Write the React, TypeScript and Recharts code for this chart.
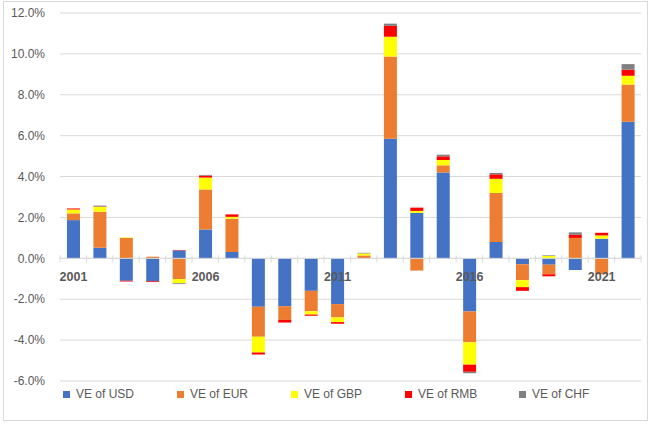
import React from "react";
import {
  BarChart,
  Bar,
  XAxis,
  YAxis,
  CartesianGrid,
  ReferenceLine,
  LabelList,
  Legend,
} from "recharts";

const years = [
  "2001", "2002", "2003", "2004", "2005", "2006", "2007", "2008", "2009", "2010", "2011",
  "2012", "2013", "2014", "2015", "2016", "2017", "2018", "2019", "2020", "2021", "2022",
];
const usd = [1.87, 0.52, -1.1, -1.12, 0.39, 1.41, 0.31, -2.37, -2.34, -1.59, -2.24, 0, 5.85, 2.22, 4.2, -2.6, 0.8, -0.29, -0.31, -0.57, 0.96, 6.68];
const eur = [0.33, 1.76, 1.0, 0.08, -1.02, 1.96, 1.63, -1.47, -0.67, -1.0, -0.65, 0.14, 4.02, -0.6, 0.35, -1.51, 2.4, -0.78, -0.47, 1.0, -0.78, 1.82];
const gbp = [0.19, 0.24, 0.02, 0, -0.2, 0.58, 0.09, -0.76, 0, -0.16, -0.23, 0.1, 0.97, 0.1, 0.26, -1.09, 0.69, -0.34, 0.12, 0, 0.16, 0.43];
const rmb = [0.05, 0.02, -0.03, -0.04, 0.02, 0.1, 0.12, -0.1, -0.13, -0.06, -0.08, 0, 0.53, 0.16, 0.18, -0.35, 0.22, -0.18, -0.1, 0.15, 0.13, 0.3];
const chf = [0, 0.04, 0, 0, -0.04, 0.03, 0, 0, 0, 0, 0, 0.03, 0.11, 0, 0.08, -0.07, 0.07, 0, 0.03, 0.12, 0, 0.27];
const labeledYears = ["2001", "2006", "2011", "2016", "2021"];
const yTicks = [-6, -4, -2, 0, 2, 4, 6, 8, 10, 12];

const series = [
  { key: "usd", name: "VE of USD", color: "#4472C4" },
  { key: "eur", name: "VE of EUR", color: "#ED7D31" },
  { key: "gbp", name: "VE of GBP", color: "#FFFF00" },
  { key: "rmb", name: "VE of RMB", color: "#FF0000" },
  { key: "chf", name: "VE of CHF", color: "#808080" },
];

const data = years.map((year, i) => ({
  year,
  usd: usd[i],
  eur: eur[i],
  gbp: gbp[i],
  rmb: rmb[i],
  chf: chf[i],
}));

const WIDTH = 652;
const HEIGHT = 425;
const X_AXIS_HEIGHT = 10;
const MARGIN = { top: 13, right: 11, bottom: 44 - X_AXIS_HEIGHT, left: 0 };
const Y_AXIS_WIDTH = 60;
const Y_MIN = -6;
const Y_MAX = 12;
const PLOT_W = WIDTH - MARGIN.left - MARGIN.right - Y_AXIS_WIDTH;
const PLOT_H = HEIGHT - MARGIN.top - MARGIN.bottom - X_AXIS_HEIGHT;
const BAND = PLOT_W / years.length;
const ZERO_Y = MARGIN.top + (PLOT_H * Y_MAX) / (Y_MAX - Y_MIN);

const TEXT = "#595959";
const GRID = "#d9d9d9";
const FONT = "'Liberation Sans', Arial, sans-serif";

// boundary ticks sit on the zero line, like Excel's axis crossing at 0
const BoundaryTick = (props: any) => {
  const { x, index } = props;
  const left = x - BAND / 2;
  return (
    <g>
      <line x1={left} x2={left} y1={ZERO_Y - 3} y2={ZERO_Y + 4} stroke={GRID} />
      {index === years.length - 1 && (
        <line x1={x + BAND / 2} x2={x + BAND / 2} y1={ZERO_Y - 3} y2={ZERO_Y + 4} stroke={GRID} />
      )}
    </g>
  );
};

// year labels, drawn with the USD bars (non-zero in every labelled year) so they sit on top
const YearLabel = (props: any) => {
  const { x, width, value } = props;
  const year = String(value);
  if (!labeledYears.includes(year)) return null;
  return (
    <text
      x={Number(x) + Number(width) / 2}
      y={ZERO_Y + 23}
      textAnchor="middle"
      fill={TEXT}
      fontSize={12.5}
      fontWeight="bold"
      fontFamily={FONT}
    >
      {year}
    </text>
  );
};

const LegendContent = () => (
  <div style={{ display: "flex", fontFamily: FONT, fontSize: 12, color: TEXT }}>
    {series.map((s) => (
      <div key={s.key} style={{ width: 114, display: "flex", alignItems: "center" }}>
        <span
          style={{
            display: "inline-block",
            width: 7,
            height: 7,
            background: s.color,
            marginRight: 6,
          }}
        />
        <span>{s.name}</span>
      </div>
    ))}
  </div>
);

export default function App() {
  return (
    <div style={{ position: "relative", width: WIDTH, height: HEIGHT, background: "#fff" }}>
      <style>{"body{margin:0}"}</style>
      <div
        style={{
          position: "absolute",
          left: 3,
          top: 1,
          width: 645,
          height: 420,
          border: `1px solid ${GRID}`,
          boxSizing: "border-box",
        }}
      />
      <BarChart
        width={WIDTH}
        height={HEIGHT}
        data={data}
        margin={MARGIN}
        stackOffset="sign"
        barSize={13}
      >
        <CartesianGrid vertical={false} stroke={GRID} />
        <YAxis
          width={Y_AXIS_WIDTH}
          domain={[Y_MIN, Y_MAX]}
          ticks={yTicks}
          axisLine={false}
          tickLine={false}
          tickMargin={9}
          tickFormatter={(v: number) => `${v.toFixed(1)}%`}
          tick={{ fill: TEXT, fontSize: 12, fontFamily: FONT }}
        />
        <XAxis
          dataKey="year"
          height={X_AXIS_HEIGHT}
          axisLine={false}
          tickLine={false}
          interval={0}
          tick={BoundaryTick}
        />
        <ReferenceLine y={0} stroke={GRID} />
        {series.map((s, i) => (
          <Bar
            key={s.key}
            dataKey={s.key}
            name={s.name}
            stackId="ve"
            fill={s.color}
            isAnimationActive={false}
          >
            {i === 0 && <LabelList dataKey="year" content={YearLabel} />}
          </Bar>
        ))}
        <Legend
          verticalAlign="middle"
          align="center"
          content={<LegendContent />}
          wrapperStyle={{ top: 387, left: 63, width: 580, height: 16 }}
        />
      </BarChart>
    </div>
  );
}
